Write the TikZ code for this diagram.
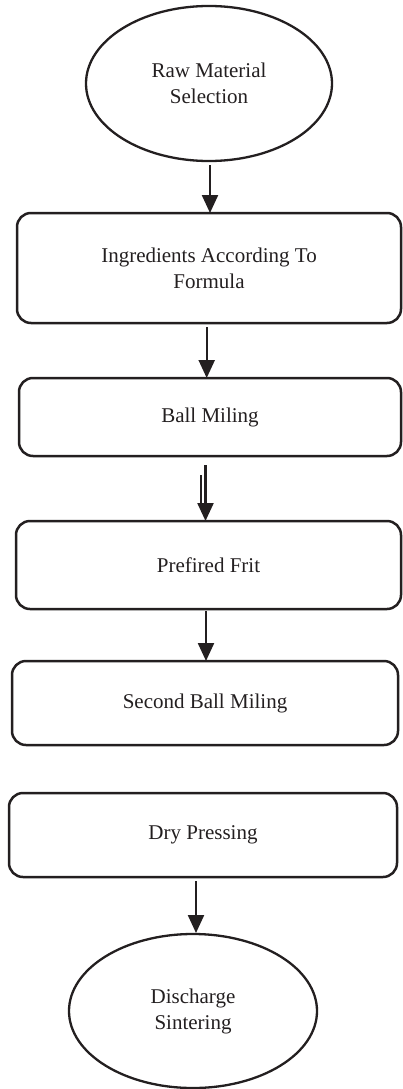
\documentclass[tikz,border=0pt]{standalone}
\usepackage{fontspec}
\setmainfont{Liberation Serif}
\usetikzlibrary{shapes.geometric,arrows.meta,calc}
\definecolor{ink}{HTML}{231F20}
\begin{document}
\begin{tikzpicture}[x=1pt,y=-1pt,
  every node/.style={inner sep=0pt,outer sep=0pt,text=ink,align=center,
    font=\fontsize{21}{26}\selectfont},
  oval/.style={ellipse,draw=ink,line width=2.3pt},
  stepbox/.style={rectangle,rounded corners=14pt,draw=ink,line width=2.5pt},
  flow/.style={draw=ink,line width=2.3pt,-{Triangle[length=18pt,width=16pt]}},
  plain/.style={draw=ink,line width=2.3pt}]
\useasboundingbox (0,0) rectangle (402,1089);

% process steps
\node[oval,minimum width=246pt,minimum height=155pt] (e1) at (209,83.5)
  {Raw Material\\Selection};
\node[stepbox,minimum width=384pt,minimum height=110pt] (b1) at (209,268)
  {Ingredients According To\\Formula};
\node[stepbox,minimum width=382pt,minimum height=78pt] (b2) at (210,417)
  {Ball Miling};
\node[stepbox,minimum width=385pt,minimum height=88pt] (b3) at (208.5,565)
  {Prefired Frit};
\node[stepbox,minimum width=386pt,minimum height=84pt] (b4) at (205,703)
  {Second Ball Miling};
\node[stepbox,minimum width=388pt,minimum height=84pt] (b5) at (203,835)
  {Dry Pressing};
\node[oval,minimum width=248pt,minimum height=154pt] (e2) at (193,1011)
  {Discharge\\Sintering};

% arrow start points
\coordinate (s1) at (210,165);
\coordinate (s2) at (206.7,327);
\coordinate (s3) at (205.5,465);
\coordinate (s3b) at (201,475);
\coordinate (t3b) at (201,503);
\coordinate (s4) at (206,611);
\coordinate (s5) at (196,881);
\coordinate (t5) at (196,933);

% connectors
\draw[flow] (s1) -- (s1 |- b1.north);
\draw[flow] (s2) -- (s2 |- b2.north);
\draw[flow] (s3) -- (s3 |- b3.north);
\draw[plain] (s3b) -- (t3b);
\draw[flow] (s4) -- (s4 |- b4.north);
\draw[flow] (s5) -- (t5);
\end{tikzpicture}
\end{document}
